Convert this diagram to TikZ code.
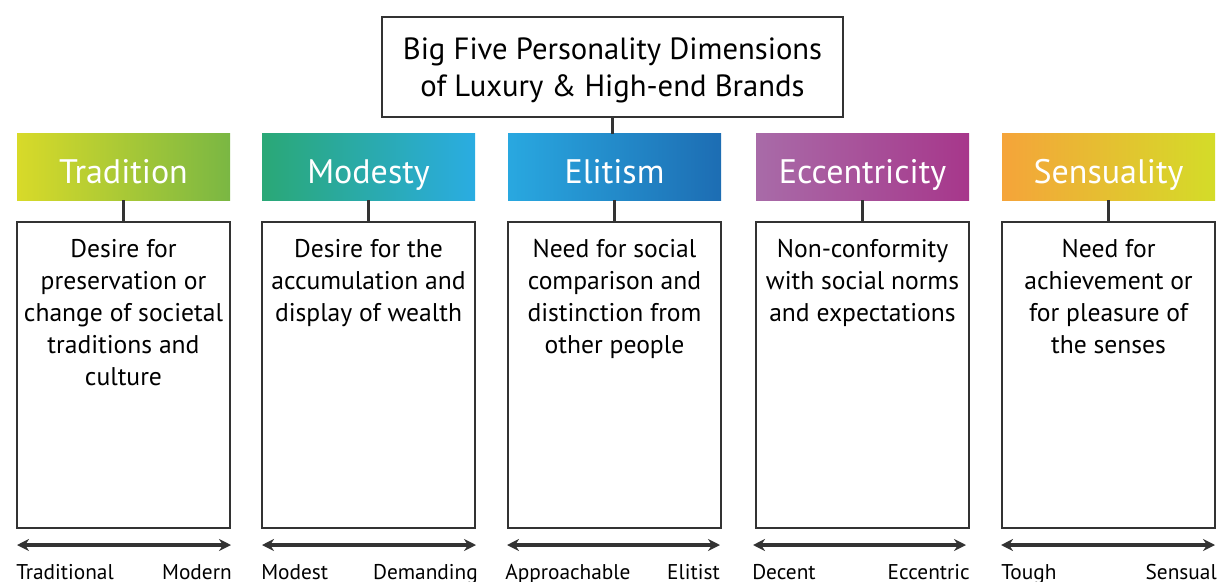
\documentclass[tikz,border=0pt]{standalone}
\usepackage{fontspec}
\setmainfont{PT Sans}
\usetikzlibrary{positioning,arrows.meta}
\definecolor{boxline}{HTML}{333333}
\begin{document}
\begin{tikzpicture}[x=0.75pt,y=-0.75pt,
    frame/.style={draw=boxline,line width=2.2pt,rectangle,inner sep=0pt},
    head/.style={rectangle,minimum width=159.75pt,minimum height=49.5pt,inner sep=0pt,text height=28pt,text depth=4pt,text=white,font=\fontsize{25.5}{30}\selectfont},
    descbox/.style={frame,minimum width=159.75pt,minimum height=229.5pt},
    desctext/.style={anchor=north,align=center,inner sep=0pt,font=\fontsize{19.2}{24}\selectfont},
    link/.style={draw=boxline,line width=2.2pt},
    scalearrow/.style={draw=boxline,line width=2.3pt,{Stealth[length=9pt,width=9pt]}-{Stealth[length=9pt,width=9pt]}},
    pole/.style={inner sep=0pt,font=\fontsize{16}{18}\selectfont}]
  \useasboundingbox (0,0) rectangle (1219,581);
  % title
  \node[frame,minimum width=345.75pt,minimum height=75pt,align=center,font=\fontsize{23}{27.75}\selectfont] (title) at (612.5,67) {\rule{0pt}{22pt}Big Five Personality Dimensions\\of Luxury \& High-end Brands};
  % dimension heads
  \node[head,left color={rgb,255:red,216;green,218;blue,41},right color={rgb,255:red,122;green,183;blue,67}] (trad) at (123.5,167) {Tradition};
  \node[head,left color={rgb,255:red,42;green,168;blue,118},right color={rgb,255:red,42;green,172;blue,226}] (mode) at (368.5,167) {Modesty};
  \node[head,left color={rgb,255:red,41;green,168;blue,224},right color={rgb,255:red,29;green,109;blue,179}] (elit) at (614.5,167) {Elitism};
  \node[head,left color={rgb,255:red,168;green,107;blue,168},right color={rgb,255:red,167;green,55;blue,139}] (ecce) at (862.5,167) {Eccentricity};
  \node[head,left color={rgb,255:red,245;green,164;blue,58},right color={rgb,255:red,212;green,220;blue,40}] (sens) at (1108.5,167) {Sensuality};
  % description boxes
  \node[descbox] (trad-box) at (123.5,375) {};
  \node[descbox] (mode-box) at (368.5,375) {};
  \node[descbox] (elit-box) at (614.5,375) {};
  \node[descbox] (ecce-box) at (862.5,375) {};
  \node[descbox] (sens-box) at (1108.5,375) {};
  \node[desctext] (trad-text) at (123.5,239) {Desire for\\preservation or\\change of societal\\traditions and\\culture};
  \node[desctext] (mode-text) at (368.5,239) {Desire for the\\accumulation and\\display of wealth};
  \node[desctext] (elit-text) at (614.5,239) {Need for social\\comparison and\\distinction from\\other people};
  \node[desctext] (ecce-text) at (862.5,239) {Non-conformity\\with social norms\\and expectations};
  \node[desctext] (sens-text) at (1108.5,239) {Need for\\achievement or\\for pleasure of\\the senses};
  % links
  \draw[link] (title.south) -- (title.south |- elit.north);
  \draw[link] (trad) -- (trad-box);
  \draw[link] (mode) -- (mode-box);
  \draw[link] (elit) -- (elit-box);
  \draw[link] (ecce) -- (ecce-box);
  \draw[link] (sens) -- (sens-box);
  % scales
  \coordinate (trad-l) at (17,545);  \coordinate (trad-r) at (231,545);
  \coordinate (mode-l) at (262,545); \coordinate (mode-r) at (476,545);
  \coordinate (elit-l) at (507,545); \coordinate (elit-r) at (720,545);
  \coordinate (ecce-l) at (753,545); \coordinate (ecce-r) at (966,545);
  \coordinate (sens-l) at (1001,545);\coordinate (sens-r) at (1215,545);
  \draw[scalearrow] (trad-l) -- (trad-r);
  \draw[scalearrow] (mode-l) -- (mode-r);
  \draw[scalearrow] (elit-l) -- (elit-r);
  \draw[scalearrow] (ecce-l) -- (ecce-r);
  \draw[scalearrow] (sens-l) -- (sens-r);
  \node[pole,anchor=base west] (trad-lo) at (16,579) {Traditional};
  \node[pole,anchor=base east] (trad-hi) at (232,579) {Modern};
  \node[pole,anchor=base west] (mode-lo) at (261,579) {Modest};
  \node[pole,anchor=base east] (mode-hi) at (478,579) {Demanding};
  \node[pole,anchor=base west] (elit-lo) at (505,579) {Approachable};
  \node[pole,anchor=base east] (elit-hi) at (720,579) {Elitist};
  \node[pole,anchor=base west] (ecce-lo) at (752,579) {Decent};
  \node[pole,anchor=base east] (ecce-hi) at (970,579) {Eccentric};
  \node[pole,anchor=base west] (sens-lo) at (1001,579) {Tough};
  \node[pole,anchor=base east] (sens-hi) at (1217,579) {Sensual};
\end{tikzpicture}
\end{document}
